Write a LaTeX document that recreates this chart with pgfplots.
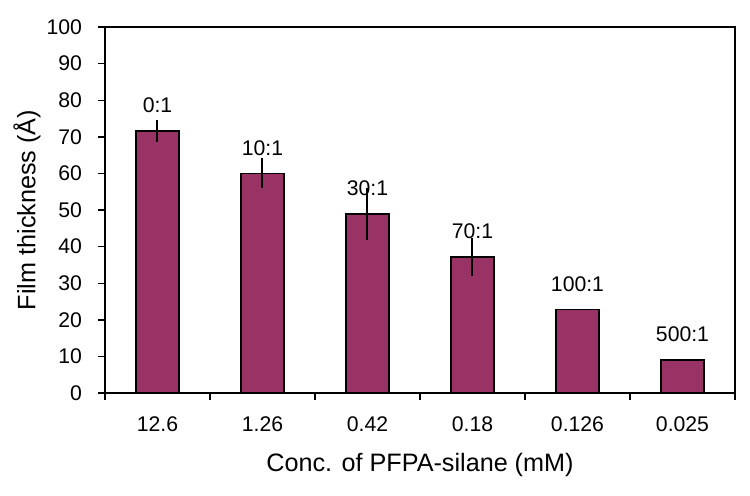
\documentclass[border=0pt]{standalone}
\usepackage{pgfplots}
\pgfplotsset{compat=1.18}
\usepackage{pgfplotstable}
\usepackage{fontspec}
\setmainfont{Liberation Sans}
\definecolor{plum}{RGB}{153,51,102}

\pgfplotstableread{
x  y     e    lab
0  71.6  3.1  0:1
1  60.0  4.1  10:1
2  48.9  7.0  30:1
3  37.2  5.2  70:1
4  22.8  0    100:1
5  9.0   0    500:1
}\filmdata

\begin{document}
\begin{tikzpicture}
\begin{axis}[
    at={(0,0)}, anchor=south west,
    scale only axis,
    width=315pt, height=183pt,
    xmin=-0.5, xmax=5.5,
    ymin=0, ymax=100,
    ytick={0,10,...,100},
    xtick={0,...,5},
    xticklabels={12.6,1.26,0.42,0.18,0.126,0.025},
    minor xtick={-0.5,0.5,...,5.5},
    major x tick style={draw=none},
    tick align=outside,
    major tick length=3.5pt,
    minor tick length=3.5pt,
    xtick pos=bottom, ytick pos=left,
    axis line style={line width=0.9pt},
    every tick/.style={black, line width=0.7pt},
    tick label style={font=\fontsize{10.6}{12}\selectfont},
    /pgf/number format/assume math mode=true,
    xticklabel style={anchor=center, yshift=-12pt},
    yticklabel style={anchor=east, xshift=-4.5pt},
    xlabel={Conc. of PFPA-silane (mM)},
    ylabel={Film thickness (Å)},
    label style={font=\fontsize{12.6}{15}\selectfont},
    xlabel style={at={(axis description cs:0.5,-0.197)}, anchor=center},
    ylabel style={at={(axis description cs:-0.124,0.5)}, anchor=center},
    point meta=explicit symbolic,
    nodes near coords,
    nodes near coords style={anchor=center, yshift=12.8pt, font=\fontsize{10.6}{12}\selectfont, text=black},
    clip=false,
]
\addplot[ybar, bar width=0.41, fill=plum, draw=black, line width=0.8pt,
    error bars/.cd, y dir=both, y explicit, error mark=none,
    error bar style={black, line width=1pt}]
    table[x=x, y=y, y error=e, meta=lab] {\filmdata};
\end{axis}
\path (-52.5pt,-51pt) rectangle (322.5pt,196.5pt);
\end{tikzpicture}
\end{document}
